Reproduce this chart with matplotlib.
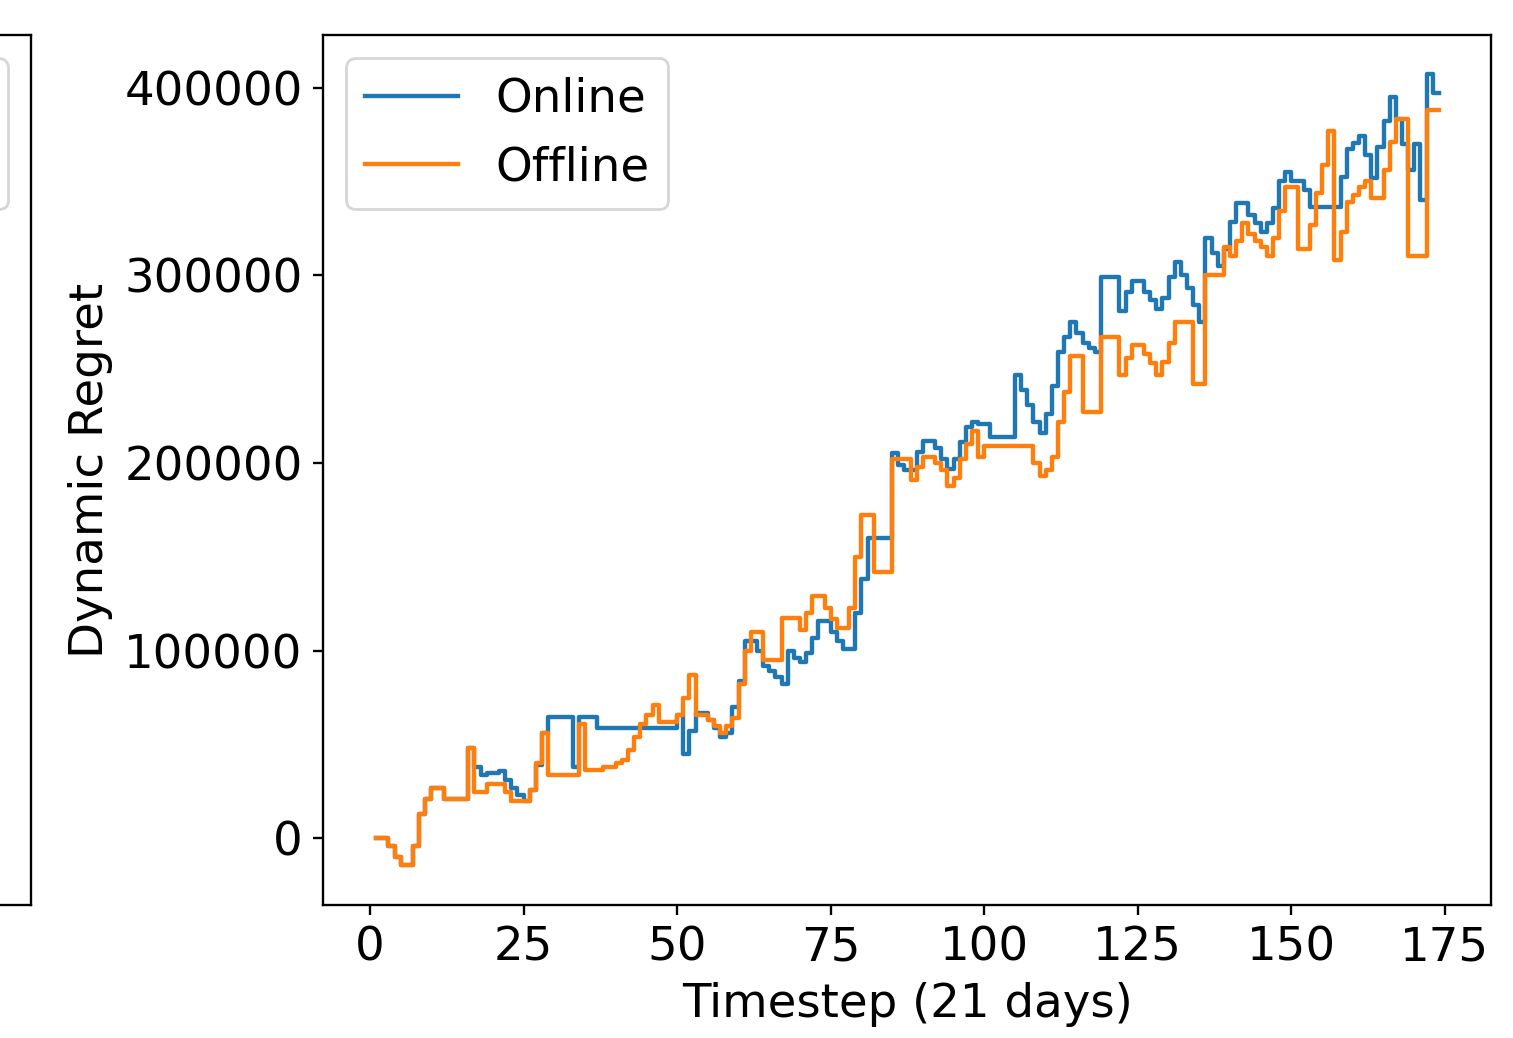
import numpy as np
import matplotlib
matplotlib.use("Agg")
import matplotlib.pyplot as plt
from matplotlib.lines import Line2D

scale = 1.05
plt.rcParams.update({
    "font.size": 16 * scale,
    "lines.linewidth": 1.5 * scale,
    "axes.linewidth": 0.8 * scale,
    "xtick.major.size": 3.5 * scale,
    "ytick.major.size": 3.5 * scale,
    "xtick.major.width": 0.8 * scale,
    "ytick.major.width": 0.8 * scale,
    "xtick.major.pad": 3.5 * scale,
    "ytick.major.pad": 3.5 * scale,
    "legend.frameon": True,
})

# Dynamic regret per timestep (thousands), one value per step interval [t, t+1]
online = [
    0, 0, -4, -10, -14, -14, -4, 13, 21, 27, 27, 21, 21, 21, 21, 48,
    38, 34, 35, 35, 36, 31, 27, 23, 20, 26, 39, 56, 64.5, 64.5, 64.5, 64.5,
    38, 64.5, 64.5, 64.5, 59, 59, 59, 59, 59, 59, 59, 59, 59, 59, 59, 59, 59,
    66, 45, 57, 67, 67, 63, 59, 54, 56, 70, 84, 105, 105, 100, 92, 89, 86, 82,
    100, 96, 94, 99, 107, 116, 116, 110, 105, 101, 101, 120, 138, 160, 160,
    160, 160, 205.5, 199, 196.5, 196.5, 206, 211.5, 211.5, 208, 202, 197, 202,
    211, 219, 222, 221, 221, 214, 214, 214, 214, 247, 239, 231, 222, 216, 226,
    241, 259, 267, 275, 269.5, 264, 261.5, 259, 299, 299, 299, 281, 291, 297,
    297, 291, 287, 282, 288, 299, 307, 300, 293, 284, 275, 320, 312, 305, 314,
    328.5, 338.5, 338.5, 332, 328, 323, 328, 336, 350, 355, 350, 350, 345.5,
    336.5, 336.5, 336.5, 336.5, 336.5, 352.5, 367, 370.5, 374, 364, 352, 368.5,
    382, 395, 383, 370, 356, 370, 340, 407, 397,
]
offline = [
    0, 0, -4, -10, -14, -14, -4, 13, 21, 27, 27, 21, 21, 21, 21, 48,
    24.5, 24.5, 29, 29, 29, 24.5, 20, 20, 20, 26, 40, 56, 34, 34, 34, 34,
    34, 61, 36.5, 36.5, 36.5, 38, 38, 40, 42, 47, 54, 61, 66, 71, 62, 62, 62,
    66, 75, 87, 66, 66, 63, 60, 56, 60, 64, 82, 100, 110, 110, 95, 95, 95,
    117.5, 117.5, 117.5, 111, 120, 129, 129, 123, 117, 112, 112, 123, 150,
    172.5, 172.5, 142, 142, 142, 202, 202, 202, 191, 198, 203, 203, 200, 196.5,
    187.5, 192, 202, 210, 217, 203, 209, 209, 209, 209, 209, 209, 209, 209,
    200, 193, 196.5, 203, 222, 238, 257, 257, 227, 227, 227, 267, 267, 267,
    247, 256, 263, 263, 258, 253.5, 247, 254, 264, 275, 275, 275, 242, 242,
    300, 300, 300, 315, 310, 318, 328, 322, 318, 315, 310, 320, 334, 347, 347,
    314, 314, 327, 344, 359, 377, 308, 323, 339, 343, 347, 350, 341, 341, 356,
    371, 383, 383, 310, 310, 310, 388, 388,
]

series_labels = ["Online", "Offline"]
x_label = "Timestep (21 days)"
y_label = "Dynamic Regret"
x_ticks = [0, 25, 50, 75, 100, 125, 150, 175]
y_ticks = [0, 100000, 200000, 300000, 400000]

steps = np.arange(1, len(online) + 2)
online_vals = np.array(online) * 1000
offline_vals = np.array(offline) * 1000

fig = plt.figure(figsize=(1513 / 200, 1038 / 200), dpi=200)

# neighbouring panel on the left (only its right edge falls inside the figure)
w, h, b = 0.772, 0.8382, 0.1281
ax_left = fig.add_axes([31 / 1513 - w, b, w, h])
ax_left.set_xlim(-8, 186.7)
ax_left.set_xticks(x_ticks)
ax_left.set_yticks([])
proxies = [Line2D([], [], color="C0"), Line2D([], [], color="C1")]
ax_left.legend(proxies, series_labels, loc="upper right")

ax = fig.add_axes([323 / 1513, b, 1168 / 1513, h])
ax.step(steps, np.append(online_vals, online_vals[-1]), where="post",
        color="C0", label=series_labels[0])
ax.step(steps, np.append(offline_vals, offline_vals[-1]), where="post",
        color="C1", label=series_labels[1])
ax.set_xlim(-7.65, 182.5)
ax.set_ylim(-35500, 428000)
ax.set_xticks(x_ticks)
ax.set_yticks(y_ticks)
ax.set_xlabel(x_label)
ax.set_ylabel(y_label)
ax.legend(loc="upper left")

fig.savefig("out.png", dpi=200)
